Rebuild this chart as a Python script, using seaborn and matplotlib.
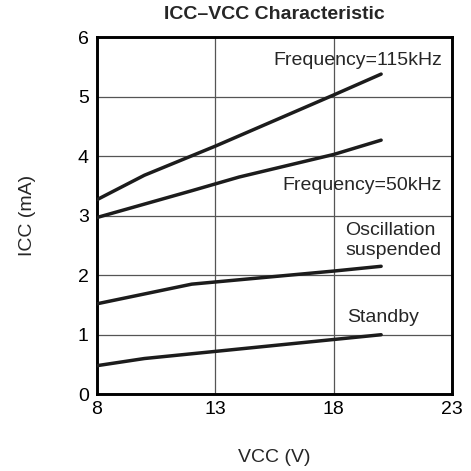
import pandas as pd
import matplotlib
matplotlib.use("Agg")
import matplotlib.pyplot as plt
import seaborn as sns

# === Data ===
vcc_115k = [8, 10, 13, 18, 20]
icc_115k = [3.27, 3.68, 4.17, 5.03, 5.38]

vcc_50k = [8, 12, 14, 18, 20]
icc_50k = [2.97, 3.42, 3.65, 4.03, 4.27]

vcc_osc = [8, 12, 18, 20]
icc_osc = [1.52, 1.85, 2.07, 2.15]

vcc_stby = [8, 10, 18, 20]
icc_stby = [0.48, 0.60, 0.92, 1.00]

labels = ["Frequency=115kHz", "Frequency=50kHz", "Oscillation\nsuspended", "Standby"]
x_ticks = [8, 13, 18, 23]
y_ticks = [0, 1, 2, 3, 4, 5, 6]

# long-form table for seaborn
frames = []
for name, xs, ys in zip(labels, [vcc_115k, vcc_50k, vcc_osc, vcc_stby],
                        [icc_115k, icc_50k, icc_osc, icc_stby]):
    frames.append(pd.DataFrame({"VCC": xs, "ICC": ys, "mode": name}))
df = pd.concat(frames, ignore_index=True)

sns.set_style("white")
plt.rcParams["font.family"] = ["Liberation Sans", "DejaVu Sans"]

fig = plt.figure(figsize=(4.71, 4.71), dpi=100)
ax = fig.add_axes([0.206, 0.163, 0.754, 0.758])

sns.lineplot(data=df, x="VCC", y="ICC", hue="mode", palette=["#1c1c1c"] * 4,
             linewidth=2.5, legend=False, sort=False, ax=ax, zorder=3)

ax.set_xlim(8, 23)
ax.set_ylim(0, 6)
ax.set_xticks(x_ticks)
ax.set_yticks(y_ticks)
ax.grid(True, color="#555555", linewidth=0.9)
for s in ax.spines.values():
    s.set_color("black")
    s.set_linewidth(2.1)
ax.tick_params(length=0, labelsize=14, colors="black")
ax.tick_params(axis="x", pad=5)
ax.tick_params(axis="y", pad=6)

# curve labels
fs = 14
ax.text(22.58, 5.53, labels[0], ha="right", va="baseline", fontsize=fs)
ax.text(22.56, 3.43, labels[1], ha="right", va="baseline", fontsize=fs)
line1, line2 = labels[2].split("\n")
ax.text(18.48, 2.67, line1, ha="left", va="baseline", fontsize=fs)
ax.text(18.48, 2.34, line2, ha="left", va="baseline", fontsize=fs)
ax.text(18.55, 1.215, labels[3], ha="left", va="baseline", fontsize=fs)

ax.set_title("ICC\u2013VCC Characteristic", fontsize=14, fontweight="bold", pad=13)
ax.set_xlabel("VCC (V)", fontsize=14, labelpad=22)
ax.set_ylabel("ICC (mA)", fontsize=14, labelpad=30)

fig.savefig("out.png", dpi=100)
